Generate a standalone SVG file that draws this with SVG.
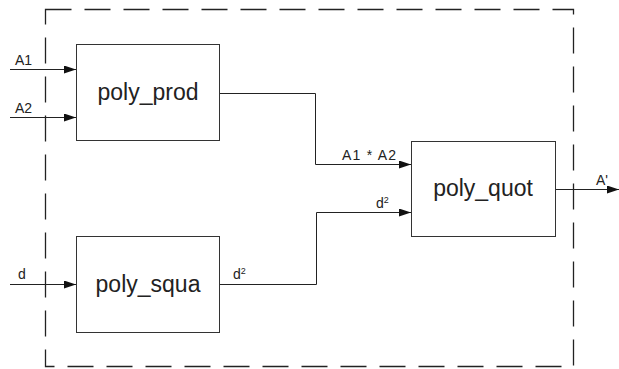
<svg xmlns="http://www.w3.org/2000/svg" width="619" height="369" viewBox="0 0 619 369">
<style>
.box{fill:#fff;stroke:#333;stroke-width:1}
.wire{fill:none;stroke:#222;stroke-width:1}
.frame{fill:none;stroke:#222;stroke-width:1.3;stroke-dasharray:26 13}
.big{font-family:"Liberation Sans",Arial,sans-serif;font-size:23px;fill:#222;text-anchor:middle}
.lbl{font-family:"Liberation Sans",Arial,sans-serif;font-size:14px;fill:#222}
.sup{font-size:9px}
</style>
<defs>
<marker id="arr" markerWidth="12" markerHeight="8" refX="12" refY="4" orient="auto" markerUnits="userSpaceOnUse">
<path d="M0,0 L12,4 L0,8 Z" fill="#111"/>
</marker>
</defs>
<rect x="0" y="0" width="619" height="369" fill="#fff"/>
<rect id="frame" class="frame" x="45.5" y="9.5" width="528" height="357"/>
<g id="connectors">
<line class="wire" x1="10" y1="69.5" x2="76" y2="69.5" marker-end="url(#arr)"/>
<line class="wire" x1="10" y1="117.5" x2="76" y2="117.5" marker-end="url(#arr)"/>
<line class="wire" x1="10" y1="284.5" x2="76" y2="284.5" marker-end="url(#arr)"/>
<polyline class="wire" points="219,93.5 315.5,93.5 315.5,164.5 411,164.5" marker-end="url(#arr)"/>
<polyline class="wire" points="219,284.5 316.5,284.5 316.5,212.5 411,212.5" marker-end="url(#arr)"/>
<line class="wire" x1="555" y1="189.5" x2="619" y2="189.5" marker-end="url(#arr)"/>
<text class="lbl" x="15" y="65">A1</text>
<text class="lbl" x="15" y="113">A2</text>
<text class="lbl" x="18" y="279">d</text>
<text class="lbl" x="233" y="279">d<tspan class="sup" dy="-5">2</tspan></text>
<text class="lbl" x="342" y="160" textLength="54" lengthAdjust="spacing">A1 * A2</text>
<text class="lbl" x="376" y="208">d<tspan class="sup" dy="-5">2</tspan></text>
<text class="lbl" x="596" y="185">A'</text>
</g>
<g id="poly_prod">
<rect class="box" x="76.5" y="44.5" width="143" height="96"/>
<text class="big" x="148" y="100">poly_prod</text>
</g>
<g id="poly_squa">
<rect class="box" x="76.5" y="236.5" width="143" height="96"/>
<text class="big" x="148" y="292">poly_squa</text>
</g>
<g id="poly_quot">
<rect class="box" x="411.5" y="141.5" width="144" height="95"/>
<text class="big" x="483" y="196">poly_quot</text>
</g>
</svg>
